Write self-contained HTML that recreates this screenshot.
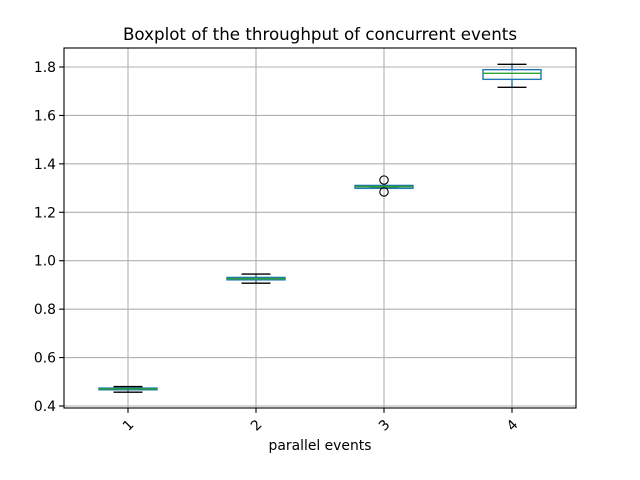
<!DOCTYPE html>
<html><head><meta charset="utf-8"><style>
body{margin:0;background:#fff;}
svg text{font-family:"DejaVu Sans","Liberation Sans",sans-serif;fill:#000;}
</style></head><body>
<svg id="chart" width="640" height="480" viewBox="0 0 640 480" xmlns="http://www.w3.org/2000/svg" style="position:absolute;left:0;top:0"></svg>
<script>
const categories = ["1","2","3","4"];
const whiskerLow = [0.457, 0.907, 1.300, 1.716];
const q1Values = [0.467, 0.921, 1.299, 1.749];
const medianValues = [0.471, 0.926, 1.306, 1.774];
const q3Values = [0.474, 0.931, 1.311, 1.789];
const whiskerHigh = [0.480, 0.945, 1.310, 1.811];
const outlierValues = [[], [], [1.333, 1.284], []];
const yTicks = [0.4, 0.6, 0.8, 1.0, 1.2, 1.4, 1.6, 1.8];

const L=64,R=576,T=48,B=408;
const yMin=0.4-2/242.1, yMax=1.8+19/242.1;
const y=v=>B-(v-yMin)/(yMax-yMin)*(B-T);
const x=i=>L+(i+0.5)/categories.length*(R-L);
const svg=document.getElementById('chart');
const NS='http://www.w3.org/2000/svg';
function mk(tag,attrs,parent){const e=document.createElementNS(NS,tag);for(const k in attrs)e.setAttribute(k,attrs[k]);(parent||svg).appendChild(e);return e;}

yTicks.forEach(t=>{const g=mk('line',{x1:L,x2:R,y1:y(t),y2:y(t),stroke:'#b0b0b0','stroke-width':1.1});

});
categories.forEach((c,i)=>{const g=mk('line',{x1:x(i),x2:x(i),y1:T,y2:B,stroke:'#b0b0b0','stroke-width':1.1});

});

categories.forEach((c,i)=>{
  const g=mk('g',{});
  
  
  const cx=x(i), hw=29, cw=14.5;
  mk('line',{x1:cx,x2:cx,y1:y(q3Values[i]),y2:y(whiskerHigh[i]),stroke:'#1f77b4','stroke-width':1.4},g);
  mk('line',{x1:cx,x2:cx,y1:y(q1Values[i]),y2:y(whiskerLow[i]),stroke:'#1f77b4','stroke-width':1.4},g);
  mk('line',{x1:cx-cw,x2:cx+cw,y1:y(whiskerHigh[i]),y2:y(whiskerHigh[i]),stroke:'#000','stroke-width':1.4},g);
  mk('line',{x1:cx-cw,x2:cx+cw,y1:y(whiskerLow[i]),y2:y(whiskerLow[i]),stroke:'#000','stroke-width':1.4},g);
  const top=y(q3Values[i]), bot=y(q1Values[i]);
  mk('rect',{x:cx-hw,y:top,width:2*hw,height:Math.max(bot-top,0.5),fill:'none',stroke:'#1f77b4','stroke-width':1.4},g);
  mk('line',{x1:cx-hw,x2:cx+hw,y1:y(medianValues[i]),y2:y(medianValues[i]),stroke:'#2ca02c','stroke-width':1.4},g);
  outlierValues[i].forEach(v=>{const o=mk('circle',{cx:cx,cy:y(v),r:4.2,fill:'none',stroke:'#000','stroke-width':1.1},g);
    
    });
});

const f=mk('rect',{x:L,y:T,width:R-L,height:B-T,fill:'none',stroke:'#000','stroke-width':1.1});



yTicks.forEach(t=>{mk('line',{x1:L-4.9,x2:L,y1:y(t),y2:y(t),stroke:'#000','stroke-width':1.1});
  const tx=mk('text',{x:L-8,y:y(t)+5,'text-anchor':'end','font-size':13.9});
  tx.textContent=t.toFixed(1);
  
  });
categories.forEach((c,i)=>{mk('line',{x1:x(i),x2:x(i),y1:B,y2:B+4.9,stroke:'#000','stroke-width':1.1});
  const cxl=x(i), cyl=B+17;
  const tx=mk('text',{x:cxl,y:cyl+5,'text-anchor':'middle','font-size':13.9,transform:`rotate(-45 ${cxl} ${cyl})`});
  tx.textContent=c;
  
  });

const title=mk('text',{x:320,y:40,'text-anchor':'middle','font-size':16.7});
title.textContent='Boxplot of the throughput of concurrent events';


const xt=mk('text',{x:320,y:450,'text-anchor':'middle','font-size':13.9});
xt.textContent='parallel events';


</script>
</body></html>
